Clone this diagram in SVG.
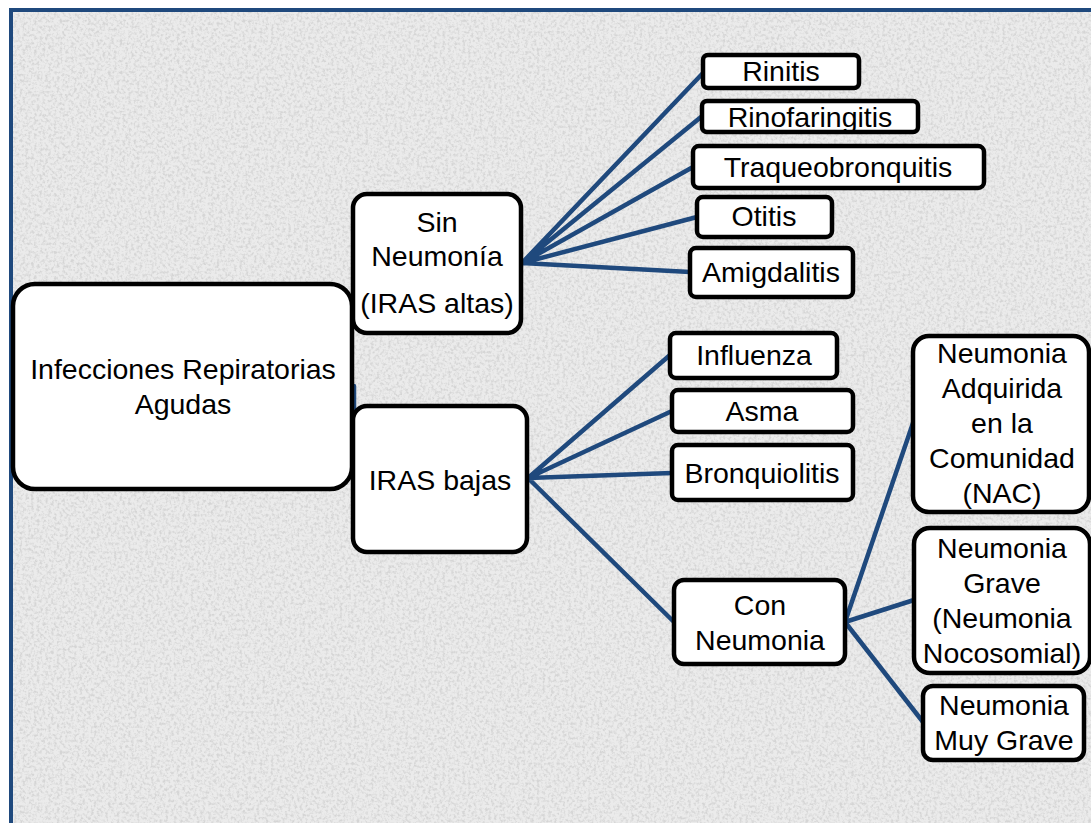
<svg xmlns="http://www.w3.org/2000/svg" width="1091" height="823" viewBox="0 0 1091 823">
<defs>
<style>
.n{fill:#fff;stroke:#000;stroke-width:4.5}
.t{font-family:"Liberation Sans",Arial,sans-serif;font-size:28.5px;fill:#000;text-anchor:middle}
.c{stroke:#1f497d;stroke-width:4.5;fill:none;stroke-linecap:round}
</style>
<filter id="noise" x="0" y="0" width="100%" height="100%">
<feTurbulence type="fractalNoise" baseFrequency="0.35" numOctaves="3" seed="3" result="t"/>
<feColorMatrix type="matrix" values="0 0 0 0 0.5  0 0 0 0 0.5  0 0 0 0 0.5  3 0 0 0 -1.3"/>
</filter>
</defs>
<rect x="0" y="0" width="1091" height="823" fill="#fff"/>
<rect x="11" y="10" width="1080" height="813" fill="#ebebeb"/>
<rect x="11" y="10" width="1080" height="813" filter="url(#noise)" opacity="0.45"/>
<path d="M11,823 V10 H1091" stroke="#1f497d" stroke-width="4" fill="none"/>
<g id="connectors">
<path class="c" d="M350,386 V300 M354,386 V478"/>
<path class="c" d="M522,263 L703,73 M522,263 L701,117 M522,263 L693,167 M522,263 L697,217 M522,263 L690,272"/>
<path class="c" d="M528,478 L670,355 M528,478 L672,411 M528,478 L672,473 M528,478 L674,622"/>
<path class="c" d="M845,622 L913,423 M845,622 L914,600 M845,622 L923,722"/>
</g>
<g id="root"><rect class="n" x="13" y="284" width="339" height="205" rx="22"/>
<text class="t" x="183" y="379">Infecciones Repiratorias</text><text class="t" x="183" y="414">Agudas</text></g>
<g id="sin-neumonia"><rect class="n" x="353" y="194" width="168" height="139" rx="14"/>
<text class="t" x="437" y="232">Sin</text><text class="t" x="437" y="266">Neumonía</text><text class="t" x="437" y="313">(IRAS altas)</text></g>
<g id="iras-bajas"><rect class="n" x="353" y="406" width="174" height="146" rx="14"/>
<text class="t" x="440" y="490">IRAS bajas</text></g>
<g id="rinitis"><rect class="n" x="703" y="55" width="156" height="33" rx="5"/><text class="t" x="781" y="81">Rinitis</text></g>
<g id="rinofaringitis"><rect class="n" x="702" y="101" width="216" height="31" rx="5"/><text class="t" x="810" y="127">Rinofaringitis</text></g>
<g id="traqueobronquitis"><rect class="n" x="693" y="146" width="291" height="42" rx="6"/><text class="t" x="838" y="177">Traqueobronquitis</text></g>
<g id="otitis"><rect class="n" x="697" y="197" width="135" height="40" rx="6"/><text class="t" x="764" y="226">Otitis</text></g>
<g id="amigdalitis"><rect class="n" x="690" y="248" width="163" height="49" rx="6"/><text class="t" x="771" y="282">Amigdalitis</text></g>
<g id="influenza"><rect class="n" x="670" y="333" width="167" height="45" rx="6"/><text class="t" x="754" y="365">Influenza</text></g>
<g id="asma"><rect class="n" x="672" y="390" width="181" height="42" rx="6"/><text class="t" x="762" y="421">Asma</text></g>
<g id="bronquiolitis"><rect class="n" x="672" y="445" width="181" height="55" rx="6"/><text class="t" x="762" y="483">Bronquiolitis</text></g>
<g id="con-neumonia"><rect class="n" x="674" y="580" width="171" height="84" rx="10"/>
<text class="t" x="760" y="615">Con</text><text class="t" x="760" y="650">Neumonia</text></g>
<g id="nac"><rect class="n" x="913" y="336" width="176" height="176" rx="16"/>
<text class="t" x="1002" y="363">Neumonia</text><text class="t" x="1002" y="398">Adquirida</text><text class="t" x="1002" y="433">en la</text><text class="t" x="1002" y="468">Comunidad</text><text class="t" x="1002" y="503">(NAC)</text></g>
<g id="neumonia-grave"><rect class="n" x="914" y="528" width="176" height="145" rx="16"/>
<text class="t" x="1002" y="558">Neumonia</text><text class="t" x="1002" y="593">Grave</text><text class="t" x="1002" y="628">(Neumonia</text><text class="t" x="1002" y="663">Nocosomial)</text></g>
<g id="neumonia-muy-grave"><rect class="n" x="923" y="686" width="161" height="74" rx="10"/>
<text class="t" x="1004" y="715">Neumonia</text><text class="t" x="1004" y="750">Muy Grave</text></g>
</svg>
